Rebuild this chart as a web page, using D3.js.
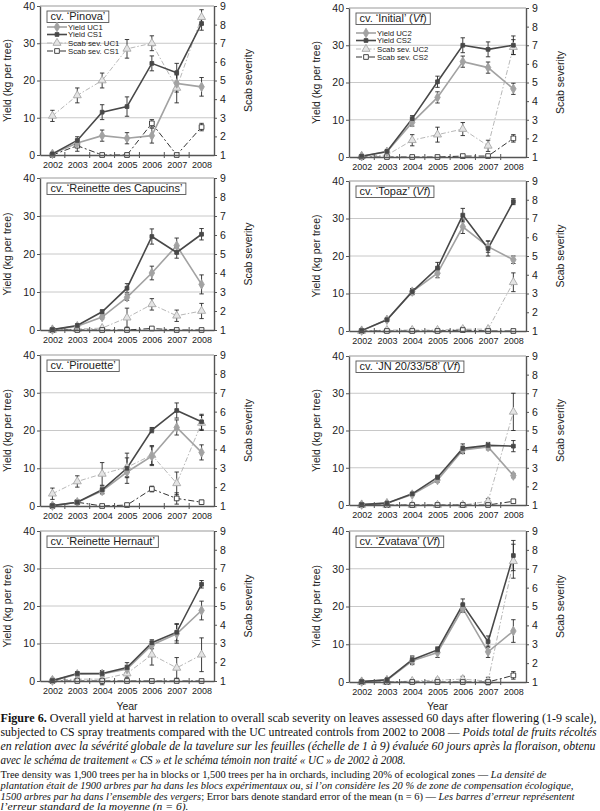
<!DOCTYPE html>
<html>
<head>
<meta charset="utf-8">
<script src="https://cdn.jsdelivr.net/npm/d3@7"></script>
<style>
body { margin: 0; background: #fff; }
svg { display: block; }
.tick text, .lab { font-family: "Liberation Sans", Arial, sans-serif; fill: #222; }
.cap { font-family: "Liberation Serif", "Times New Roman", serif; fill: #111; }
</style>
</head>
<body>
<svg id="fig" width="600" height="811"></svg>
<script>
// --- data ---
var years = [2002, 2003, 2004, 2005, 2006, 2007, 2008];
var cultivars = ["Pinova", "Initial", "Reinette des Capucins", "Topaz",
                 "Pirouette", "JN 20/33/58", "Reinette Hernaut", "Zvatava"];
var vf = [false, true, false, true, false, true, false, true];

// yield, kg per tree
var yieldUC = [
  [0.3, 3.2, 5.2, 4.5, 5.2, 19.2, 18.3],
  [0.2, 1.4, 9.3, 16.0, 25.6, 24.0, 18.3],
  [0.1, 1.0, 3.4, 8.6, 15.0, 22.2, 12.0],
  [0.1, 3.0, 10.5, 15.4, 27.8, 22.5, 19.0],
  [0.1, 1.0, 4.0, 9.0, 13.2, 20.8, 14.2],
  [0.1, 0.5, 2.8, 6.7, 14.8, 15.6, 7.9],
  [0.1, 1.8, 1.9, 3.2, 9.6, 12.6, 18.8],
  [0.1, 0.5, 5.6, 7.8, 19.5, 8.0, 13.5]];
var yieldUCErr = [
  [0.3, 0.8, 1.5, 1.5, 2.0, 2.3, 2.5],
  [0.2, 0.3, 1.0, 1.5, 1.5, 1.5, 1.5],
  [0.1, 0.3, 0.5, 0.8, 1.8, 2.0, 2.5],
  [0.1, 0.4, 0.8, 1.2, 1.8, 1.5, 1.0],
  [0.1, 0.3, 0.8, 1.5, 2.5, 2.0, 2.0],
  [0.1, 0.2, 0.3, 0.6, 1.0, 0.8, 0.6],
  [0.1, 0.5, 0.5, 1.0, 1.0, 2.5, 2.5],
  [0.1, 0.2, 1.0, 1.3, 1.0, 1.5, 3.0]];
var yieldCS = [
  [0.3, 3.9, 11.5, 13.0, 24.6, 22.1, 35.3],
  [0.2, 1.5, 10.3, 20.2, 30.0, 28.9, 30.0],
  [0.1, 1.2, 4.8, 11.0, 24.6, 20.4, 25.2],
  [0.1, 3.0, 10.5, 16.8, 30.9, 22.0, 34.5],
  [0.1, 1.0, 4.3, 10.0, 20.1, 25.3, 22.3],
  [0.1, 0.5, 3.0, 7.4, 15.2, 16.0, 15.8],
  [0.1, 2.0, 2.0, 3.6, 10.2, 13.0, 25.8],
  [0.1, 0.6, 5.9, 8.5, 20.5, 10.7, 33.5]];
var yieldCSErr = [
  [0.3, 1.0, 2.0, 2.6, 2.0, 2.5, 1.8],
  [0.2, 0.3, 0.8, 1.5, 2.0, 2.0, 2.5],
  [0.1, 0.3, 0.5, 1.2, 2.0, 1.5, 1.5],
  [0.1, 0.4, 0.8, 1.5, 1.8, 2.0, 0.8],
  [0.1, 0.3, 1.0, 4.0, 0.7, 2.0, 2.0],
  [0.1, 0.2, 0.3, 0.6, 1.2, 0.8, 1.5],
  [0.1, 0.5, 0.8, 1.3, 0.8, 2.3, 1.0],
  [0.1, 0.2, 1.0, 0.8, 1.5, 1.5, 4.0]];

// scab severity, 1-9 scale
var scabUC = [
  [3.1, 4.2, 5.0, 6.7, 7.0, 4.6, 8.4],
  [1.05, 1.1, 1.9, 2.2, 2.5, 1.6, 6.9],
  [1.0, 1.05, 1.1, 1.65, 2.35, 1.75, 2.0],
  [1.0, 1.05, 1.05, 1.05, 1.1, 1.1, 3.6],
  [1.65, 2.3, 2.7, 3.05, 3.7, 2.2, 5.4],
  [1.0, 1.0, 1.0, 1.0, 1.0, 1.2, 6.0],
  [1.05, 1.1, 1.1, 1.4, 2.4, 1.7, 2.4],
  [1.0, 1.0, 1.05, 1.1, 1.15, 1.05, 7.4]];
var scabUCErr = [
  [0.3, 0.4, 0.4, 0.5, 0.4, 0.8, 0.4],
  [0, 0, 0.3, 0.4, 0.35, 0.3, 0.4],
  [0, 0, 0, 0.5, 0.3, 0.3, 0.4],
  [0, 0, 0, 0, 0.1, 0, 0.5],
  [0.3, 0.3, 0.6, 0.5, 0.5, 0.6, 0.4],
  [0, 0, 0, 0, 0, 0.15, 1.0],
  [0.1, 0.1, 0.3, 0.2, 0.55, 0.55, 0.9],
  [0, 0, 0, 0.1, 0.15, 0.2, 0.9]];
var scabCS = [
  [1.0, 1.5, 1.0, 1.0, 2.7, 1.0, 2.5],
  [1.0, 1.0, 1.0, 1.0, 1.05, 1.05, 2.0],
  [1.0, 1.0, 1.0, 1.0, 1.08, 1.0, 1.0],
  [1.0, 1.0, 1.0, 1.0, 1.05, 1.0, 1.0],
  [1.0, 1.2, 1.0, 1.05, 1.9, 1.4, 1.2],
  [1.0, 1.0, 1.0, 1.0, 1.0, 1.0, 1.2],
  [1.0, 1.0, 1.0, 1.0, 1.0, 1.0, 1.0],
  [1.0, 1.0, 1.0, 1.0, 1.0, 1.0, 1.35]];
var scabCSErr = [
  [0, 0.3, 0, 0.1, 0.2, 0, 0.2],
  [0, 0, 0, 0, 0, 0, 0.2],
  [0, 0, 0, 0, 0, 0, 0],
  [0, 0, 0, 0, 0, 0, 0],
  [0, 0.05, 0, 0, 0.15, 0.3, 0.1],
  [0, 0, 0, 0, 0, 0, 0.1],
  [0, 0, 0, 0, 0, 0, 0],
  [0, 0, 0, 0, 0, 0, 0.2]];

var yieldTicks = [0, 10, 20, 30, 40];
var scabTicks = [1, 2, 3, 4, 5, 6, 7, 8, 9];

// --- layout ---
var panels = [
  {x0: 40, x1: 214, y0: 6, y1: 155},   {x0: 349, x1: 526, y0: 8, y1: 157},
  {x0: 40, x1: 214, y0: 178, y1: 330}, {x0: 349, x1: 526, y0: 181, y1: 331},
  {x0: 40, x1: 214, y0: 355, y1: 506}, {x0: 349, x1: 526, y0: 356, y1: 505},
  {x0: 40, x1: 214, y0: 531, y1: 681}, {x0: 349, x1: 526, y0: 531, y1: 682}];

var svg = d3.select("#fig");
svg.append("rect").attr("width", 600).attr("height", 811).attr("fill", "#fff");

var axisCol = "#555";

cultivars.forEach(function(name, i) {
  var L = panels[i];
  var g = svg.append("g");
  var x = d3.scaleLinear().domain([2001.5, 2008.5]).range([L.x0, L.x1]);
  var y = d3.scaleLinear().domain([0, 40]).range([L.y1, L.y0]);
  var s = d3.scaleLinear().domain([1, 9]).range([L.y1, L.y0]);

  // gridlines
  g.selectAll(null).data(yieldTicks.slice(1)).enter().append("line")
    .attr("x1", L.x0).attr("x2", L.x1)
    .attr("y1", function(d) { return y(d); }).attr("y2", function(d) { return y(d); })
    .attr("stroke", function(d) { return d == 40 ? "#999" : "#c8c8c8"; })
    .attr("stroke-width", 1);

  var series = [
    {v: scabUC[i], e: scabUCErr[i], sc: s, col: "#b8b8b8", w: 1, dash: "5,2,1.5,2", sym: d3.symbolTriangle, size: 28, fill: "#e4e4e4", mcol: "#a8a8a8"},
    {v: scabCS[i], e: scabCSErr[i], sc: s, col: "#333", w: 1, dash: "6,2.5,2,2.5", sym: d3.symbolSquare, size: 22, fill: "#fff", mcol: "#333"},
    {v: yieldUC[i], e: yieldUCErr[i], sc: y, col: "#a2a2a2", w: 1.6, dash: null, sym: d3.symbolDiamond, size: 26, fill: "#a2a2a2", mcol: "#a2a2a2"},
    {v: yieldCS[i], e: yieldCSErr[i], sc: y, col: "#484848", w: 1.6, dash: null, sym: d3.symbolSquare, size: 14, fill: "#484848", mcol: "#484848"}];

  series.forEach(function(se) {
    var line = d3.line().x(function(d, j) { return x(years[j]); }).y(function(d) { return se.sc(d); });
    g.append("path").datum(se.v).attr("d", line)
      .attr("fill", "none").attr("stroke", se.col).attr("stroke-width", se.w)
      .attr("stroke-dasharray", se.dash);
  });

  // error bars
  series.forEach(function(se) {
    se.v.forEach(function(v, j) {
      var e = se.e[j];
      if (e < 0.05) return;
      var cx = x(years[j]), ya = se.sc(v - e), yb = se.sc(v + e);
      var eb = g.append("g").attr("stroke", "#2a2a2a").attr("stroke-width", 0.9);
      eb.append("line").attr("x1", cx).attr("x2", cx).attr("y1", ya).attr("y2", yb);
      eb.append("line").attr("x1", cx - 2.2).attr("x2", cx + 2.2).attr("y1", ya).attr("y2", ya);
      eb.append("line").attr("x1", cx - 2.2).attr("x2", cx + 2.2).attr("y1", yb).attr("y2", yb);
    });
  });

  // markers
  series.forEach(function(se) {
    g.selectAll(null).data(se.v).enter().append("path")
      .attr("d", d3.symbol().type(se.sym).size(se.size))
      .attr("transform", function(d, j) { return "translate(" + x(years[j]) + "," + se.sc(d) + ")"; })
      .attr("fill", se.fill).attr("stroke", se.mcol).attr("stroke-width", 0.9);
  });

  // axes
  var ax = g.append("g").attr("transform", "translate(" + L.x0 + ",0)")
    .call(d3.axisLeft(y).tickValues(yieldTicks).tickSize(3).tickSizeOuter(0).tickPadding(2));
  var ar = g.append("g").attr("transform", "translate(" + L.x1 + ",0)")
    .call(d3.axisRight(s).tickValues(scabTicks).tickSize(3).tickSizeOuter(0).tickPadding(3));
  var ab = g.append("g").attr("transform", "translate(0," + L.y1 + ")")
    .call(d3.axisBottom(x).tickValues(years).tickFormat(d3.format("d")).tickSize(0).tickPadding(7).tickSizeOuter(0));
  [ax, ar, ab].forEach(function(a) {
    a.select(".domain").attr("stroke", axisCol).attr("stroke-width", 1.4);
    a.selectAll(".tick line").attr("stroke", axisCol).attr("stroke-width", 1);
    a.selectAll(".tick text").style("font-size", "10.5px");
  });
  ab.selectAll(".tick text").style("font-size", "9px");
  // half-year ticks crossing the bottom axis
  g.selectAll(null).data(years.slice(1)).enter().append("line")
    .attr("x1", function(d) { return x(d - 0.5); }).attr("x2", function(d) { return x(d - 0.5); })
    .attr("y1", L.y1 - 3).attr("y2", L.y1 + 3)
    .attr("stroke", axisCol).attr("stroke-width", 1);

  var cy = (L.y0 + L.y1) / 2;
  g.append("text").attr("class", "lab")
    .attr("transform", "translate(" + (L.x0 - 29) + "," + cy + ") rotate(-90)")
    .attr("text-anchor", "middle").style("font-size", "10.5px")
    .text("Yield (kg per tree)");
  g.append("text").attr("class", "lab")
    .attr("transform", "translate(" + (L.x1 + 38) + "," + cy + ") rotate(-90)")
    .attr("text-anchor", "middle").style("font-size", "10.5px")
    .text("Scab severity");

  // cultivar label box
  var bx = L.x0 + 7, by = L.y0 + 5;
  var box = g.append("rect").attr("x", bx).attr("y", by).attr("height", 11.5)
    .attr("fill", "#fff").attr("stroke", "#555").attr("stroke-width", 0.9);
  var t = g.append("text").attr("class", "lab").attr("x", bx + 3.5).attr("y", by + 9.3)
    .style("font-size", "11px");
  t.append("tspan").text("cv. \u2018" + name + "\u2019" + (vf[i] ? " (" : ""));
  if (vf[i]) {
    t.append("tspan").style("font-style", "italic").text("Vf");
    t.append("tspan").text(")");
  }
  box.attr("width", t.node().getComputedTextLength() + 7);

  // legend (top panels only)
  if (i < 2) {
    var n = i + 1;
    var ly = L.y0 + (i == 0 ? 21 : 25);
    var rows = [2, 3, 0, 1];
    var labels = ["Yield UC" + n, "Yield CS" + n, "Scab sev. UC" + n, "Scab sev. CS" + n];
    var offs = [0, 7.5, 16, 24];
    rows.forEach(function(k, r) {
      var se = series[k], yy = ly + offs[r];
      g.append("line").attr("x1", L.x0 + 7).attr("x2", L.x0 + 27).attr("y1", yy).attr("y2", yy)
        .attr("stroke", se.col).attr("stroke-width", se.w).attr("stroke-dasharray", se.dash);
      g.append("path").attr("d", d3.symbol().type(se.sym).size(se.size))
        .attr("transform", "translate(" + (L.x0 + 17) + "," + yy + ")")
        .attr("fill", se.fill).attr("stroke", se.mcol).attr("stroke-width", 0.9);
      g.append("text").attr("class", "lab").attr("x", L.x0 + 28).attr("y", yy + 2.8)
        .style("font-size", "7.8px").text(labels[r]);
    });
  }
});

// x-axis titles under the bottom row
[panels[6], panels[7]].forEach(function(L) {
  svg.append("text").attr("class", "lab").attr("x", (L.x0 + L.x1) / 2).attr("y", 710)
    .attr("text-anchor", "middle").style("font-size", "10.5px").text("Year");
});

// --- caption ---
var caption = [
  {y: 722, size: 11.5, w: 596, parts: [["b", "Figure 6."], ["", " Overall yield at harvest in relation to overall scab severity on leaves assessed 60 days after flowering (1-9 scale),"]]},
  {y: 736, size: 11.5, w: 596, parts: [["", "subjected to CS spray treatments compared with the UC untreated controls from 2002 to 2008 \u2014 "], ["i", "Poids total de fruits r\u00e9colt\u00e9s"]]},
  {y: 750, size: 11.5, w: 595, parts: [["i", "en relation avec la s\u00e9v\u00e9rit\u00e9 globale de la tavelure sur les feuilles (\u00e9chelle de 1 \u00e0 9) \u00e9valu\u00e9e 60 jours apr\u00e8s la floraison, obtenu"]]},
  {y: 764, size: 11.5, w: 405, parts: [["i", "avec le sch\u00e9ma de traitement \u00ab CS \u00bb et le sch\u00e9ma t\u00e9moin non trait\u00e9 \u00ab UC \u00bb de 2002 \u00e0 2008."]]},
  {y: 777.5, size: 9.5, w: 546, parts: [["", "Tree density was 1,900 trees per ha in blocks or 1,500 trees per ha in orchards, including 20% of ecological zones \u2014 "], ["i", "La densit\u00e9 de"]]},
  {y: 788.5, size: 9.5, w: 573, parts: [["i", "plantation \u00e9tait de 1900 arbres par ha dans les blocs exp\u00e9rimentaux ou, si l\u2019on consid\u00e8re les 20 % de zone de compensation \u00e9cologique,"]]},
  {y: 799.5, size: 9.5, w: 574, parts: [["i", "1500 arbres par ha dans l\u2019ensemble des vergers"], ["", "; Error bars denote standard error of the mean (n = 6) \u2014 "], ["i", "Les barres d\u2019erreur repr\u00e9sentent"]]},
  {y: 809.5, size: 9.5, w: 188, parts: [["i", "l\u2019erreur standard de la moyenne (n = 6)."]]}];

caption.forEach(function(c) {
  var t = svg.append("text").attr("class", "cap").attr("x", 0.5).attr("y", c.y)
    .style("font-size", c.size + "px")
    .attr("textLength", c.w).attr("lengthAdjust", "spacingAndGlyphs");
  c.parts.forEach(function(p) {
    var ts = t.append("tspan").text(p[1]);
    if (p[0] == "b") ts.style("font-weight", "bold");
    if (p[0] == "i") ts.style("font-style", "italic");
  });
});
</script>
</body>
</html>
